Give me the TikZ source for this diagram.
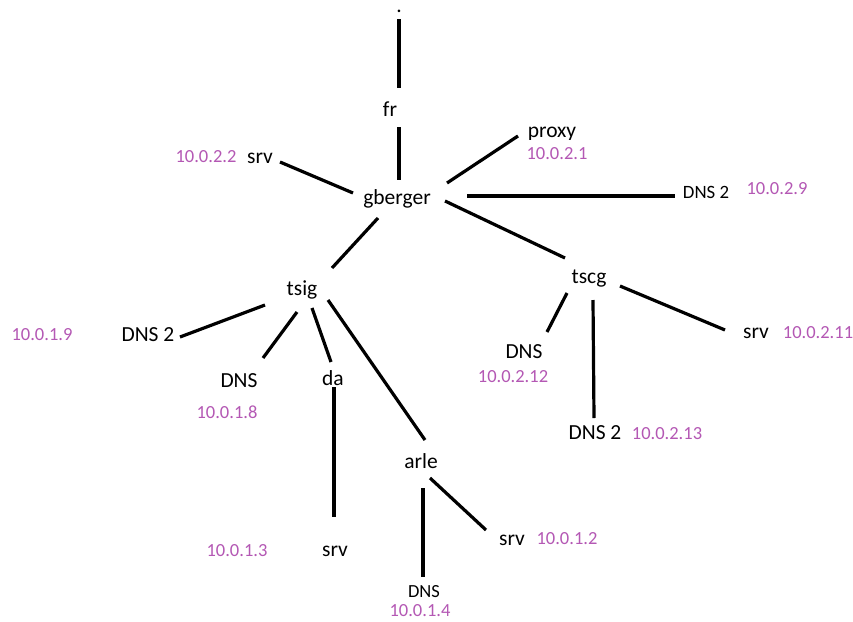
\documentclass[tikz,border=0pt]{standalone}
\usepackage{fontspec}
\setmainfont{Carlito}
\definecolor{ipc}{HTML}{B458B4}
\tikzset{
  lbl/.style={inner sep=0pt, anchor=center, font=\fontsize{21.5}{24}\selectfont},
  slbl/.style={inner sep=0pt, anchor=center, font=\fontsize{18.8}{22}\selectfont},
  ip/.style={inner sep=0pt, anchor=center, text=ipc, font=\fontsize{18.5}{22}\selectfont},
  link/.style={line width=3.2pt, black}
}
\begin{document}
\begin{tikzpicture}[x=1pt,y=-1pt]
\useasboundingbox[fill=white] (0,0) rectangle (853,621);
% nodes
\node[lbl] (root) at (399,11) {.};
\node[lbl] (fr) at (390,109) {fr};
\node[lbl] (gberger) at (397,199) {gberger};
\node[lbl] (srvA) at (260,158) {srv};
\node[ip] (ipA) at (206,157) {10.0.2.2};
\node[lbl] (proxy) at (552,134) {proxy};
\node[ip, fill=white, inner ysep=8pt] (ipB) at (557,154) {10.0.2.1};
\node[slbl] (dnsB) at (706,192) {DNS 2};
\node[ip] (ipC) at (777,189) {10.0.2.9};
\node[lbl] (tscg) at (589,279) {tscg};
\node[lbl] (srvD) at (756,333) {srv};
\node[ip] (ipD) at (818,333) {10.0.2.11};
\node[lbl] (dnsE) at (524,352) {DNS};
\node[ip] (ipE) at (513,377) {10.0.2.12};
\node[lbl] (dnsF) at (595,433) {DNS 2};
\node[ip] (ipF) at (667,434) {10.0.2.13};
\node[lbl] (tsig) at (302,290) {tsig};
\node[lbl] (dnsG) at (148,335) {DNS 2};
\node[ip] (ipG) at (42,335) {10.0.1.9};
\node[lbl] (dnsH) at (239,381) {DNS};
\node[ip] (ipH) at (227,412) {10.0.1.8};
\node[lbl] (da) at (333,378) {da};
\node[lbl] (srvI) at (335,551) {srv};
\node[ip] (ipI) at (237,551) {10.0.1.3};
\node[lbl] (arle) at (421,461) {arle};
\node[slbl, font=\fontsize{18.5}{22}\selectfont] (dnsJ) at (424,592) {DNS};
\node[ip] (ipJ) at (420,611) {10.0.1.4};
\node[lbl] (srvK) at (512,540) {srv};
\node[ip] (ipK) at (567,539) {10.0.1.2};
% connectors
\draw[link] ([shift={(0,8)}]root.center) -- ([shift={(9,-21)}]fr.center);
\draw[link] ([shift={(9,18)}]fr.center) -- ([shift={(2,-19)}]gberger.center);
\draw[link] ([shift={(-44,-6)}]gberger.center) -- ([shift={(20,4)}]srvA.center);
\draw[link] ([shift={(50,-16)}]gberger.center) -- ([shift={(-34,2)}]proxy.center);
\draw[link] ([shift={(70,-3)}]gberger.center) -- ([shift={(-31,4)}]dnsB.center);
\draw[link] ([shift={(48,2)}]gberger.center) -- ([shift={(-24,-21)}]tscg.center);
\draw[link] ([shift={(-19,19)}]gberger.center) -- ([shift={(30,-22)}]tsig.center);
\draw[link] ([shift={(31,7)}]tscg.center) -- ([shift={(-31,-3)}]srvD.center);
\draw[link] ([shift={(-22,14)}]tscg.center) -- ([shift={(23,-20)}]dnsE.center);
\draw[link] ([shift={(4,21)}]tscg.center) -- ([shift={(-1,-15)}]dnsF.center);
\draw[link] ([shift={(-37,15)}]tsig.center) -- ([shift={(32,2)}]dnsG.center);
\draw[link] ([shift={(-5,22)}]tsig.center) -- ([shift={(24,-23)}]dnsH.center);
\draw[link] ([shift={(10,18)}]tsig.center) -- ([shift={(-2,-16)}]da.center);
\draw[link] ([shift={(1,9)}]da.center) -- ([shift={(-1,-34)}]srvI.center);
\draw[link] ([shift={(26,10)}]tsig.center) -- ([shift={(4,-21)}]arle.center);
\draw[link] ([shift={(2,27)}]arle.center) -- ([shift={(-1,-15)}]dnsJ.center);
\draw[link] ([shift={(9,17)}]arle.center) -- ([shift={(-26,-10)}]srvK.center);
\end{tikzpicture}
\end{document}
